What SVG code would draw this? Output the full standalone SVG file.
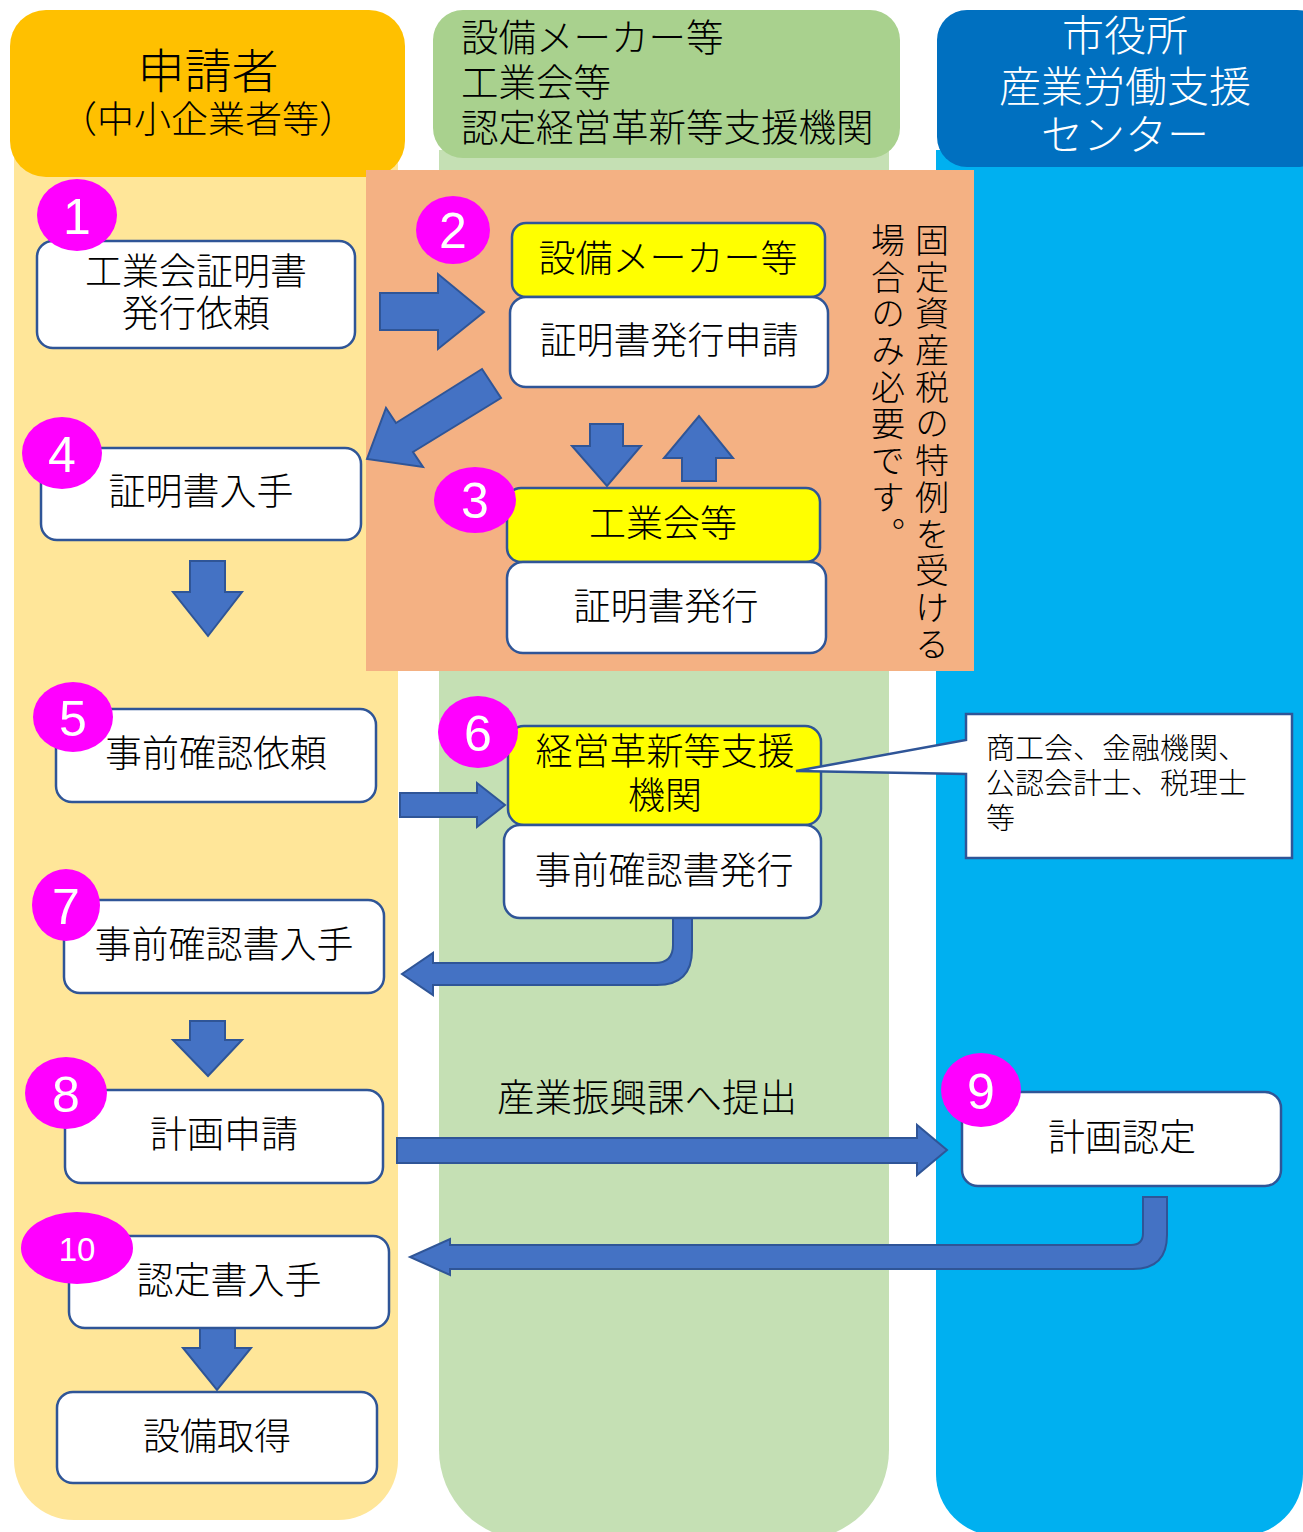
<svg xmlns="http://www.w3.org/2000/svg" width="1303" height="1532" viewBox="0 0 1303 1532">
<style>
.box{fill:#FFFFFF;stroke:#2F5597;stroke-width:2.5}
.ybox{fill:#FFFF00;stroke:#2F5597;stroke-width:2.5}
.arrow{fill:#4472C4;stroke:#2F5597;stroke-width:2;stroke-linejoin:miter}
.num{fill:#FF00FF}
.numt{fill:#FFFFFF;font-family:"Liberation Sans",Arial,sans-serif;font-size:50px;text-anchor:middle}
.t{font-family:"Noto Sans CJK JP","Noto Sans CJK SC",sans-serif;font-weight:300;font-size:37px;fill:#000000;text-anchor:middle}
.h{font-family:"Noto Sans CJK JP","Noto Sans CJK SC",sans-serif;font-weight:300;fill:#000000}
.w{fill:#FFFFFF}
.c{font-family:"Noto Sans CJK JP","Noto Sans CJK SC",sans-serif;font-weight:300;font-size:29px;fill:#000000}
</style>
<rect width="1303" height="1532" fill="#FFFFFF"/>
<g id="lanes">
  <path d="M14,150 H398 V1460 A60,60 0 0 1 338,1520 H74 A60,60 0 0 1 14,1460 Z" fill="#FFE699"/>
  <path d="M439,150 H889 V1450 A90,90 0 0 1 799,1540 H529 A90,90 0 0 1 439,1450 Z" fill="#C5E0B4"/>
  <path d="M936,150 H1303 V1474 A62,62 0 0 1 1241,1536 H998 A62,62 0 0 1 936,1474 Z" fill="#00B0F0"/>
  <g id="lane-applicant">
    <rect x="10" y="10" width="395" height="167" rx="36" fill="#FFC000"/>
    <text class="h" text-anchor="middle"><tspan x="208" y="88" font-size="47">申請者</tspan><tspan x="208" y="133" font-size="37">（中小企業者等）</tspan></text>
  </g>
  <g id="lane-maker">
    <rect x="433" y="10" width="467" height="148" rx="30" fill="#A9D18E"/>
    <text class="h" font-size="37.5"><tspan x="461" y="51">設備メーカー等</tspan><tspan x="461" y="96">工業会等</tspan><tspan x="461" y="141">認定経営革新等支援機関</tspan></text>
  </g>
  <g id="lane-city">
    <rect x="937" y="10" width="390" height="157" rx="30" fill="#0070C0"/>
    <text class="h w" font-size="42" text-anchor="middle"><tspan x="1125" y="51">市役所</tspan><tspan x="1125" y="102">産業労働支援</tspan><tspan x="1125" y="150">センター</tspan></text>
  </g>
</g>
<g id="special-area">
  <rect x="366" y="170" width="608" height="501" fill="#F4B183"/>
  <text class="h" x="932" y="223" font-size="34" letter-spacing="2.7" writing-mode="vertical-rl">固定資産税の特例を受ける</text>
  <text class="h" x="888" y="223" font-size="34" letter-spacing="2.7" writing-mode="vertical-rl">場合のみ必要です。</text>
</g>
<g id="connectors">
  <polygon class="arrow" points="380,293 438,293 438,274 484,312 438,349 438,330 380,330"/>
  <polygon class="arrow" points="482,369 501,398 413,452 423,467 367,459 386,408 396,423"/>
  <polygon class="arrow" points="590,424 623,424 623,446 641,446 607,486 572,446 590,446"/>
  <polygon class="arrow" points="682,481 716,481 716,458 733,458 699,416 664,458 682,458"/>
  <polygon class="arrow" points="190,561 225,561 225,592 242,592 208,636 173,592 190,592"/>
  <polygon class="arrow" points="400,793 477,793 477,783 505,805 477,827 477,817 400,817"/>
  <path class="arrow" d="M673,918 L692,918 L692,950 Q692,985 657,985 L433,985 L433,995 L402,974 L433,953 L433,963 L655,963 Q673,963 673,945 Z"/>
  <polygon class="arrow" points="190,1021 225,1021 225,1040 242,1040 208,1076 173,1040 190,1040"/>
  <polygon class="arrow" points="397,1138 917,1138 917,1125 947,1150 917,1175 917,1163 397,1163"/>
  <text class="t" x="647" y="1111" font-size="37.5" style="font-size:37.5px">産業振興課へ提出</text>
  <path class="arrow" d="M1143,1197 L1167,1197 L1167,1235 Q1167,1269 1133,1269 L450,1269 L450,1275 L410,1257 L450,1239 L450,1245 L1131,1245 Q1143,1245 1143,1233 Z"/>
  <polygon class="arrow" points="200,1325 235,1325 235,1348 251,1348 217,1390 183,1348 200,1348"/>
</g>
<g id="node1">
  <rect class="box" x="37" y="241" width="318" height="107" rx="16"/>
  <text class="t"><tspan x="196" y="285">工業会証明書</tspan><tspan x="196" y="327">発行依頼</tspan></text>
  <ellipse class="num" cx="77" cy="215" rx="40" ry="36"/>
  <text class="numt" x="77" y="234">1</text>
</g>
<g id="node2">
  <rect class="ybox" x="512" y="223" width="313" height="74" rx="14"/>
  <text class="t" x="668" y="272">設備メーカー等</text>
  <rect class="box" x="510" y="297" width="318" height="90" rx="16"/>
  <text class="t" x="669" y="354">証明書発行申請</text>
  <ellipse class="num" cx="453" cy="230" rx="37" ry="34"/>
  <text class="numt" x="453" y="248">2</text>
</g>
<g id="node3">
  <rect class="ybox" x="507" y="488" width="313" height="74" rx="14"/>
  <text class="t" x="663" y="537">工業会等</text>
  <rect class="box" x="507" y="562" width="319" height="91" rx="16"/>
  <text class="t" x="666" y="620">証明書発行</text>
  <ellipse class="num" cx="475" cy="500" rx="41" ry="33"/>
  <text class="numt" x="475" y="518">3</text>
</g>
<g id="node4">
  <rect class="box" x="41" y="448" width="320" height="92" rx="16"/>
  <text class="t" x="201" y="505">証明書入手</text>
  <ellipse class="num" cx="62" cy="453" rx="40" ry="36"/>
  <text class="numt" x="62" y="472">4</text>
</g>
<g id="node5">
  <rect class="box" x="56" y="709" width="320" height="93" rx="16"/>
  <text class="t" x="216" y="767">事前確認依頼</text>
  <ellipse class="num" cx="73" cy="717" rx="40" ry="35"/>
  <text class="numt" x="73" y="736">5</text>
</g>
<g id="node6">
  <rect class="ybox" x="508" y="726" width="313" height="99" rx="16"/>
  <text class="t"><tspan x="665" y="765">経営革新等支援</tspan><tspan x="665" y="809">機関</tspan></text>
  <rect class="box" x="504" y="825" width="317" height="93" rx="16"/>
  <text class="t" x="664" y="884">事前確認書発行</text>
  <ellipse class="num" cx="478" cy="732" rx="40" ry="36"/>
  <text class="numt" x="478" y="751">6</text>
</g>
<g id="callout">
  <path d="M966,714 H1292 V858 H966 V774 L796,771 L966,740 Z" fill="#FFFFFF" stroke="#2F5597" stroke-width="2.5"/>
  <text class="c"><tspan x="986" y="759">商工会、金融機関、</tspan><tspan x="986" y="794">公認会計士、税理士</tspan><tspan x="986" y="829">等</tspan></text>
</g>
<g id="node7">
  <rect class="box" x="64" y="900" width="320" height="93" rx="16"/>
  <text class="t" x="224" y="958">事前確認書入手</text>
  <ellipse class="num" cx="66" cy="905" rx="34" ry="36"/>
  <text class="numt" x="66" y="924">7</text>
</g>
<g id="node8">
  <rect class="box" x="65" y="1090" width="318" height="93" rx="16"/>
  <text class="t" x="224" y="1148">計画申請</text>
  <ellipse class="num" cx="66" cy="1093" rx="41" ry="36"/>
  <text class="numt" x="66" y="1112">8</text>
</g>
<g id="node9">
  <rect class="box" x="962" y="1092" width="319" height="94" rx="16"/>
  <text class="t" x="1122" y="1151">計画認定</text>
  <ellipse class="num" cx="981" cy="1090" rx="40" ry="37"/>
  <text class="numt" x="981" y="1109">9</text>
</g>
<g id="node10">
  <rect class="box" x="69" y="1236" width="320" height="92" rx="16"/>
  <text class="t" x="229" y="1294">認定書入手</text>
  <ellipse class="num" cx="77" cy="1248" rx="56" ry="36"/>
  <text class="numt" x="77" y="1261" style="font-size:33px">10</text>
</g>
<g id="node11">
  <rect class="box" x="57" y="1392" width="320" height="91" rx="16"/>
  <text class="t" x="217" y="1450">設備取得</text>
</g>
</svg>
